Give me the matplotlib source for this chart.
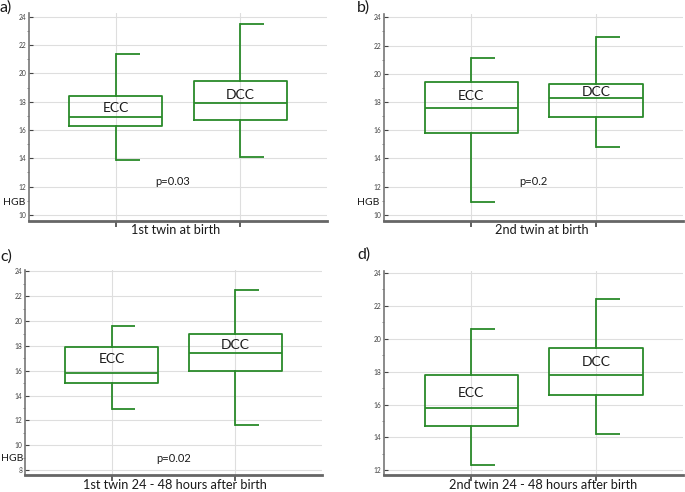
import matplotlib
matplotlib.use('Agg')
import matplotlib.pyplot as plt
from matplotlib.ticker import MultipleLocator

plt.rcParams['font.family'] = ['Lato', 'DejaVu Sans']

groups = ['ECC', 'DCC']
titles = ['1st twin at birth', '2nd twin at birth',
          '1st twin 24 - 48 hours after birth', '2nd twin 24 - 48 hours after birth']
panel_names = ['a)', 'b)', 'c)', 'd)']
p_values = ['p=0.03', 'p=0.2', 'p=0.02', None]

# whislo, q1, median, q3, whishi  for ECC / DCC
ecc = [[13.9, 16.3, 16.95, 18.4, 21.4],
       [10.9, 15.8, 17.6, 19.4, 21.1],
       [12.9, 15.0, 15.8, 17.95, 19.6],
       [12.3, 14.7, 15.8, 17.8, 20.6]]
dcc = [[14.1, 16.7, 17.9, 19.5, 23.5],
       [14.8, 16.9, 18.3, 19.3, 22.6],
       [11.6, 15.95, 17.4, 19.0, 22.5],
       [14.2, 16.6, 17.8, 19.45, 22.4]]

ylims = [(9.57, 24.25), (9.58, 24.25), (7.57, 24.12), (11.7, 24.12)]
label_y = [(17.55, 18.47), (18.42, 18.73), (16.94, 18.08), (16.71, 18.58)]
p_pos = [(1.46, 12.35), (1.50, 12.35), (1.50, 8.91), None]

W, H = 685, 492
# axes boxes in pixels: left, top, right, bottom
boxes = [(29, 13.3, 327, 221), (384.3, 13.8, 683, 220.7),
         (25, 270, 322, 475.3), (384.3, 271, 683, 475.3)]
xlabel_pos = [(176, 230), (542, 230), (175, 485), (543, 485)]
# HGB left edge in pixels
hgb_pos = [(3, 202.7), (357, 202.7), (1, 458.7), None]
panel_pos = [(0, 0), (357, 0), (0, 249), (357, 247)]

green = '#2a8a2a'
fig = plt.figure(figsize=(W / 100, H / 100), dpi=100)

for i in range(4):
    l, t, r, b = boxes[i]
    ax = fig.add_axes([l / W, 1 - b / H, (r - l) / W, (b - t) / H])
    stats = []
    for name, v in zip(groups, [ecc[i], dcc[i]]):
        stats.append(dict(label=name, whislo=v[0], q1=v[1], med=v[2], q3=v[3], whishi=v[4]))
    ax.bxp(stats, positions=[1, 2], widths=0.75, showcaps=False, showfliers=False,
           boxprops=dict(color=green, linewidth=1.3),
           whiskerprops=dict(color=green, linewidth=1.3),
           medianprops=dict(color=green, linewidth=1.3))
    for pos, v in zip([1, 2], [ecc[i], dcc[i]]):
        ax.hlines([v[0], v[4]], pos, pos + 0.19, color=green, linewidth=1.3)
    ax.set_xlim(0.3, 2.7)
    ax.set_ylim(*ylims[i])
    ax.set_xticks([1, 2])
    ax.set_xticklabels([])
    ax.yaxis.set_major_locator(MultipleLocator(2))
    ax.yaxis.set_minor_locator(MultipleLocator(1))
    ax.grid(True, color='#dedede', linewidth=0.8)
    ax.set_axisbelow(True)
    ax.tick_params(axis='y', which='major', direction='in', length=3, width=0.8,
                   labelsize=4.8, colors='#444444', pad=2)
    ax.tick_params(axis='y', which='minor', direction='out', length=1.5, width=0.6, colors='#777777')
    ax.tick_params(axis='x', direction='out', length=4, width=1.2, colors='#444444')
    for s in ['top', 'right']:
        ax.spines[s].set_visible(False)
    ax.spines['left'].set_color('#777777')
    ax.spines['left'].set_linewidth(1.2)
    ax.spines['bottom'].set_color('#666666')
    ax.spines['bottom'].set_linewidth(2)

    ax.text(1, label_y[i][0], 'ECC', ha='center', va='center', fontsize=10, color='#1a1a1a')
    ax.text(2, label_y[i][1], 'DCC', ha='center', va='center', fontsize=10, color='#1a1a1a')
    if p_values[i]:
        ax.text(p_pos[i][0], p_pos[i][1], p_values[i], ha='center', va='center',
                fontsize=8, color='#1a1a1a')
    if hgb_pos[i]:
        fig.text(hgb_pos[i][0] / W, 1 - hgb_pos[i][1] / H, 'HGB', ha='left', va='center',
                 fontsize=7.5, color='#1a1a1a')
    fig.text(xlabel_pos[i][0] / W, 1 - xlabel_pos[i][1] / H, titles[i], ha='center',
             va='center', fontsize=9.2, color='#1a1a1a')
    fig.text(panel_pos[i][0] / W, 1 - panel_pos[i][1] / H, panel_names[i], ha='left',
             va='top', fontsize=11.5, color='#1a1a1a')

fig.savefig('out.png', dpi=100)
